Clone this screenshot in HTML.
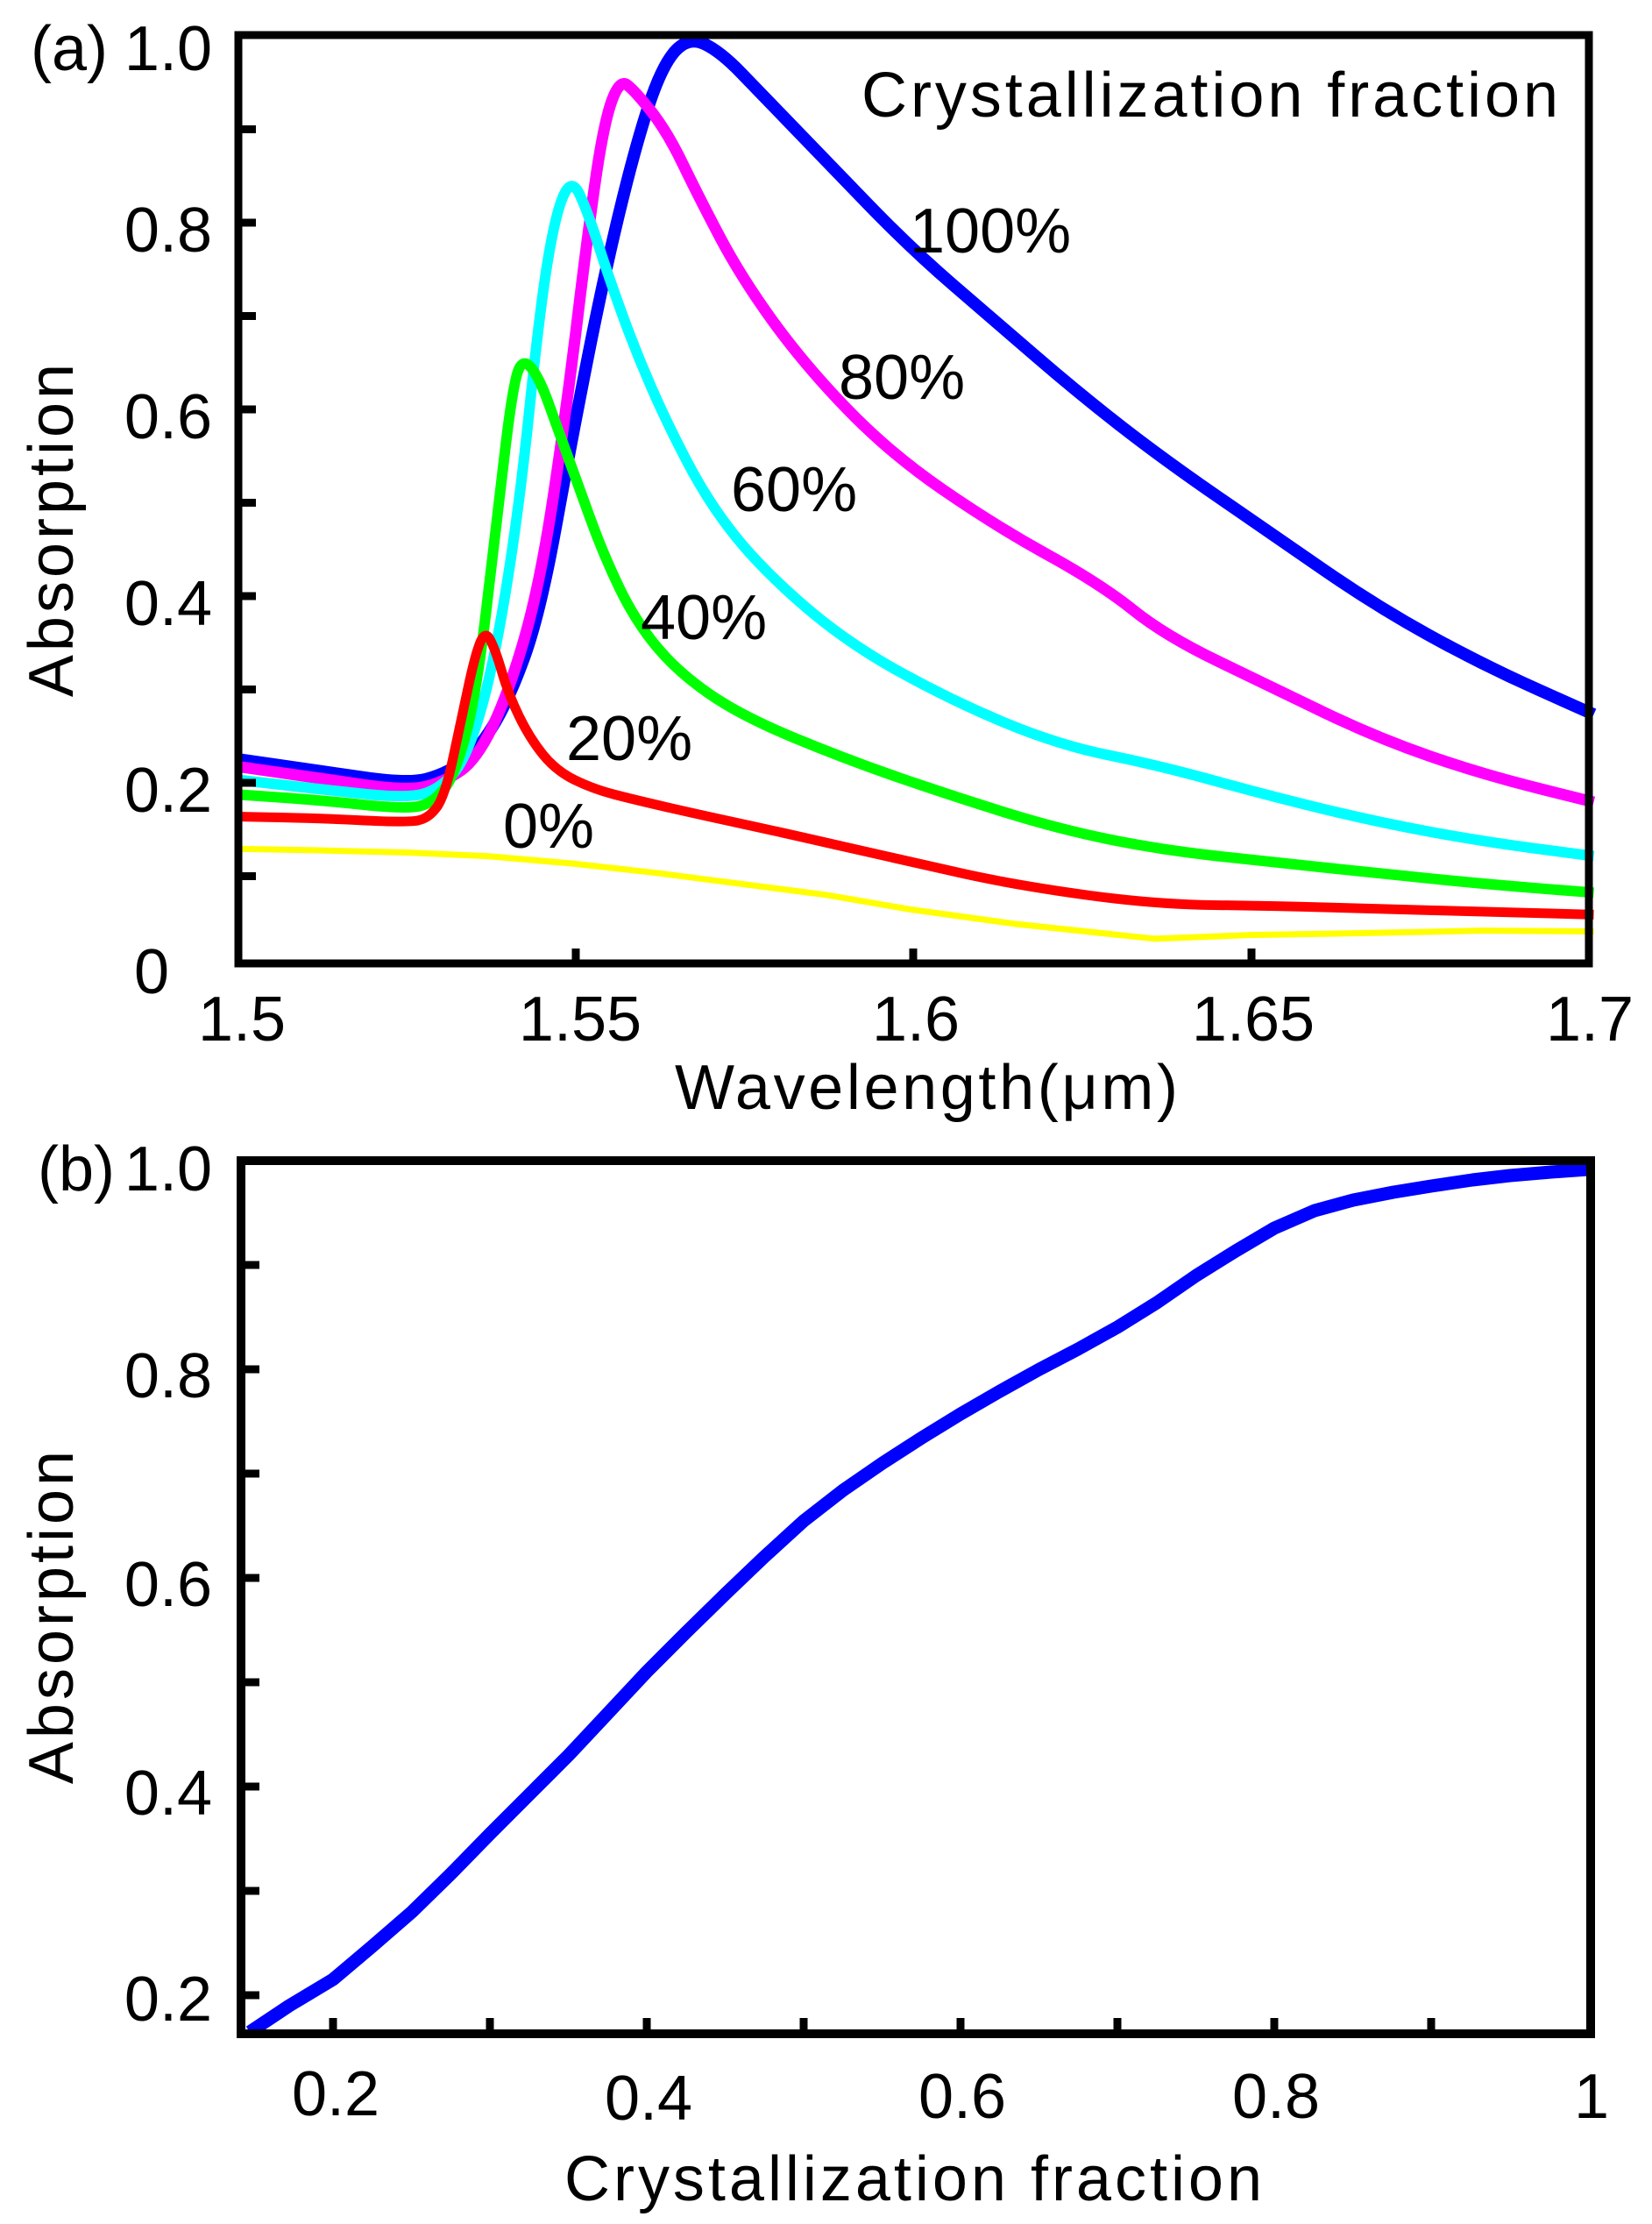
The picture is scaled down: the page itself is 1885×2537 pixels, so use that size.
<!DOCTYPE html>
<html><head><meta charset="utf-8"><style>
html,body{margin:0;padding:0;background:#fff}
svg{display:block}
text{font-family:"Liberation Sans",Arial,sans-serif;fill:#000}
</style></head><body>
<svg width="1885" height="2537" viewBox="0 0 1885 2537" xmlns="http://www.w3.org/2000/svg">
<rect width="1885" height="2537" fill="#fff"/>
<g transform="matrix(1.2083,0,0,0.83333,0,0)" fill="none" stroke-linejoin="round" stroke-linecap="butt">
<polyline vector-effect="non-scaling-stroke" stroke="#ffff00" stroke-width="7" points="228,1162 300,1164 385,1167 460,1172 540,1182 620,1195 700,1210 780,1225 860,1245 960,1265 1090,1285 1180,1280 1300,1277 1400,1274 1505,1275"/>
<path vector-effect="non-scaling-stroke" stroke="#0000ff" stroke-width="14" d="M228,1040 L264,1047.5 Q300,1055 342.5,1064 Q385,1073 402.5,1066.5 Q420,1060 435,1045 Q450,1030 465,995 Q480,960 495,900 Q510,840 525,720 Q540,600 555,490 Q570,380 585,290 Q600,200 612.5,145 Q625,90 637.5,70 Q650,50 665,60 Q680,70 700,100 Q720,130 750,175 Q780,220 820,280 Q860,340 900,390 Q940,440 980,490 Q1020,540 1060,585 Q1100,630 1150,680 Q1200,730 1250,780 Q1300,830 1350,870 Q1400,910 1452.5,944 L1505,978"/>
<path vector-effect="non-scaling-stroke" stroke="#ff00ff" stroke-width="13" d="M228,1050 L264,1057.5 Q300,1065 342.5,1074 Q385,1083 402.5,1076.5 Q420,1070 435,1055 Q450,1040 465,995 Q480,950 495,875 Q510,800 522.5,680 Q535,560 545,440 Q555,320 562.5,245 Q570,170 577.5,139 Q585,108 592.5,116.5 Q600,125 615,152.5 Q630,180 645,225 Q660,270 680,325 Q700,380 730,440 Q760,500 800,560 Q840,620 890,670 Q940,720 990,760 Q1040,800 1070,835 Q1100,870 1150,905 Q1200,940 1250,975 Q1300,1010 1350,1035 Q1400,1060 1452.5,1079 L1505,1098"/>
<path vector-effect="non-scaling-stroke" stroke="#00ffff" stroke-width="12" d="M228,1068 L264,1074 Q300,1080 342.5,1086.5 Q385,1093 400,1086.5 Q415,1080 427.5,1060 Q440,1040 452.5,980 Q465,920 477.5,810 Q490,700 500,560 Q510,420 517.5,355 Q525,290 532.5,266.5 Q540,243 547.5,266.5 Q555,290 565,335 Q575,380 587.5,430 Q600,480 615,530 Q630,580 650,635 Q670,690 695,735 Q720,780 760,830 Q800,880 850,920 Q900,960 950,990 Q1000,1020 1047.5,1034 Q1095,1048 1147.5,1069 Q1200,1090 1250,1107.5 Q1300,1125 1350,1138.5 Q1400,1152 1452.5,1162 L1505,1172"/>
<path vector-effect="non-scaling-stroke" stroke="#00ff00" stroke-width="12" d="M228,1088 L264,1091.5 Q300,1095 342.5,1101.5 Q385,1108 397.5,1103 Q410,1098 420,1079 Q430,1060 440,1005 Q450,950 460,825 Q470,700 477.5,610 Q485,520 490,505 Q495,490 502.5,505 Q510,520 517.5,550 Q525,580 535,620 Q545,660 557.5,710 Q570,760 585,805 Q600,850 620,885 Q640,920 670,950 Q700,980 750,1010 Q800,1040 850,1065 Q900,1090 950,1112.5 Q1000,1135 1047.5,1149 Q1095,1163 1147.5,1171.5 Q1200,1180 1250,1187.5 Q1300,1195 1350,1202.5 Q1400,1210 1452.5,1216 L1505,1222"/>
<path vector-effect="non-scaling-stroke" stroke="#ff0000" stroke-width="11" d="M228,1118 L264,1119 Q300,1120 342.5,1123 Q385,1126 395,1123 Q405,1120 412.5,1105 Q420,1090 427.5,1040 Q435,990 441.5,945 Q448,900 453,881 Q458,862 463,876 Q468,890 474,920 Q480,950 490,980 Q500,1010 512.5,1032.5 Q525,1055 542.5,1067.5 Q560,1080 580,1087.5 Q600,1095 630,1105 Q660,1115 700,1127.5 Q740,1140 800,1160 Q860,1180 910,1196 Q960,1212 1025,1225 Q1090,1238 1145,1239 Q1200,1240 1250,1242 Q1300,1244 1350,1246 Q1400,1248 1452.5,1250 L1505,1252"/>
</g>
<rect x="272" y="40" width="1541" height="1059" fill="none" stroke="#000" stroke-width="9"/>
<g stroke="#000" stroke-width="9">
<line x1="272" y1="147.5" x2="292" y2="147.5"/><line x1="272" y1="254" x2="292" y2="254"/>
<line x1="272" y1="360.5" x2="292" y2="360.5"/><line x1="272" y1="467" x2="292" y2="467"/>
<line x1="272" y1="573.5" x2="292" y2="573.5"/><line x1="272" y1="680" x2="292" y2="680"/>
<line x1="272" y1="786.5" x2="292" y2="786.5"/><line x1="272" y1="893" x2="292" y2="893"/>
<line x1="272" y1="999.5" x2="292" y2="999.5"/>
<line x1="657" y1="1099" x2="657" y2="1082"/><line x1="1042" y1="1099" x2="1042" y2="1082"/><line x1="1428" y1="1099" x2="1428" y2="1082"/>
</g>
<g font-size="72">
<text x="35" y="80">(a)</text>
<text x="242" y="80" text-anchor="end">1.0</text>
<text x="242" y="287" text-anchor="end">0.8</text>
<text x="242" y="500" text-anchor="end">0.6</text>
<text x="242" y="713" text-anchor="end">0.4</text>
<text x="242" y="926" text-anchor="end">0.2</text>
<text x="193" y="1133" text-anchor="end">0</text>
<text x="276" y="1187" text-anchor="middle">1.5</text>
<text x="662" y="1187" text-anchor="middle">1.55</text>
<text x="1045" y="1187" text-anchor="middle">1.6</text>
<text x="1430" y="1187" text-anchor="middle">1.65</text>
<text x="1814" y="1187" text-anchor="middle">1.7</text>
<text x="770" y="1265" letter-spacing="3" textLength="577">Wavelength(μm)</text>
<text transform="translate(83,603) rotate(-90)" text-anchor="middle" letter-spacing="4">Absorption</text>
<text x="983" y="133" textLength="795">Crystallization fraction</text>
<text x="1038" y="288">100%</text>
<text x="957" y="455">80%</text>
<text x="834" y="583">60%</text>
<text x="731" y="729">40%</text>
<text x="646" y="867">20%</text>
<text x="574" y="967">0%</text>
</g>
<polyline fill="none" stroke="#0000ff" stroke-width="15" stroke-linejoin="round" points="285,2318 330,2288 380,2258 425,2220 470,2181 515,2137 559,2092 604,2047 649,2002 694,1954 738,1907 783,1862 828,1818 872,1776 917,1735 962,1700 1007,1669 1052,1640 1096,1613 1141,1587 1186,1562 1230,1539 1275,1514 1320,1486 1365,1455 1410,1427 1454,1401 1500,1381 1544,1369 1590,1360 1633,1353 1680,1346 1723,1341 1770,1337 1812,1334"/>
<rect x="275" y="1324" width="1540" height="996" fill="none" stroke="#000" stroke-width="10"/>
<g stroke="#000" stroke-width="9">
<line x1="275" y1="1443" x2="296" y2="1443"/><line x1="275" y1="1562" x2="296" y2="1562"/>
<line x1="275" y1="1681" x2="296" y2="1681"/><line x1="275" y1="1800" x2="296" y2="1800"/>
<line x1="275" y1="1919" x2="296" y2="1919"/><line x1="275" y1="2038" x2="296" y2="2038"/>
<line x1="275" y1="2157" x2="296" y2="2157"/><line x1="275" y1="2276" x2="296" y2="2276"/>
<line x1="380" y1="2320" x2="380" y2="2302"/><line x1="559" y1="2320" x2="559" y2="2302"/>
<line x1="738" y1="2320" x2="738" y2="2302"/><line x1="917" y1="2320" x2="917" y2="2302"/>
<line x1="1096" y1="2320" x2="1096" y2="2302"/><line x1="1275" y1="2320" x2="1275" y2="2302"/>
<line x1="1454" y1="2320" x2="1454" y2="2302"/><line x1="1633" y1="2320" x2="1633" y2="2302"/>
</g>
<g font-size="72">
<text x="43" y="1358">(b)</text>
<text x="242" y="1358" text-anchor="end">1.0</text>
<text x="242" y="1594" text-anchor="end">0.8</text>
<text x="242" y="1832" text-anchor="end">0.6</text>
<text x="242" y="2070" text-anchor="end">0.4</text>
<text x="242" y="2305" text-anchor="end">0.2</text>
<text x="383" y="2413" text-anchor="middle">0.2</text>
<text x="740" y="2418" text-anchor="middle">0.4</text>
<text x="1098" y="2416" text-anchor="middle">0.6</text>
<text x="1456" y="2416" text-anchor="middle">0.8</text>
<text x="1816" y="2416" text-anchor="middle">1</text>
<text x="644" y="2510" textLength="796">Crystallization fraction</text>
<text transform="translate(83,1843) rotate(-90)" text-anchor="middle" letter-spacing="4">Absorption</text>
</g>
</svg>
</body></html>
